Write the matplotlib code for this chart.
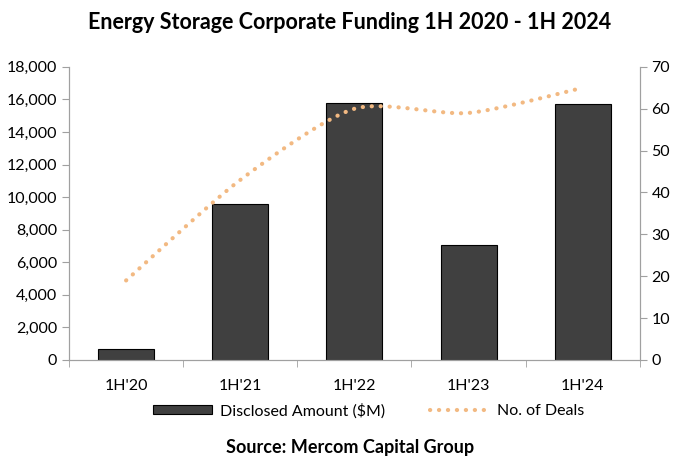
import matplotlib.pyplot as plt
import numpy as np

periods = ["1H'20", "1H'21", "1H'22", "1H'23", "1H'24"]
amount = [700, 9600, 15800, 7050, 15700]
deals = [19, 43, 60, 59, 65]

plt.rcParams['font.family'] = ['Lato', 'DejaVu Sans']


def smooth(xs, ys, n=30):
	# catmull-rom style smoothing, like excel's smoothed line
	xs = np.asarray(xs, float)
	ys = np.asarray(ys, float)
	px = np.concatenate([[xs[0]], xs, [xs[-1]]])
	py = np.concatenate([[ys[0]], ys, [ys[-1]]])
	outx, outy = [], []
	for i in range(1, len(px) - 2):
		t = np.linspace(0, 1, n)
		p0, p1, p2, p3 = [np.array([px[k], py[k]]) for k in range(i - 1, i + 3)]
		c1 = p1 + (p2 - p0) / 8
		c2 = p2 - (p3 - p1) / 8
		pts = ((1 - t) ** 3)[:, None] * p1 + (3 * (1 - t) ** 2 * t)[:, None] * c1 \
			+ (3 * (1 - t) * t ** 2)[:, None] * c2 + (t ** 3)[:, None] * p2
		outx.extend(pts[:, 0])
		outy.extend(pts[:, 1])
	return np.array(outx), np.array(outy)


fig = plt.figure(figsize=(7, 4.71), dpi=100)
ax = fig.add_axes([0.0986, 0.2357, 0.8154, 0.6223])
x = np.arange(len(periods))
bars = ax.bar(x, amount, width=0.49, color='#404040', edgecolor='black', linewidth=0.8,
	label='Disclosed Amount ($M)', zorder=2)
ax.set_xlim(-0.5, len(periods) - 0.5)
ax.set_ylim(0, 18000)
ax.set_yticks(np.arange(0, 18001, 2000))
ax.set_yticklabels([f"{v:,}" for v in range(0, 18001, 2000)])
ax.set_xticks(x)
ax.set_xticklabels(periods)
ax.set_xticks(np.arange(-0.5, len(periods), 1), minor=True)
ax.tick_params(axis='x', which='major', length=0, pad=14, labelsize=11.5)
ax.tick_params(axis='x', which='minor', length=5, color='#a0a0a0')
ax.tick_params(axis='y', length=5, color='#a0a0a0', labelsize=11.5)

ax2 = ax.twinx()
sx, sy = smooth(x, deals)
line, = ax2.plot(sx, sy, color='#f2b982', linewidth=3, linestyle=(0, (0.05, 2.1)),
	dash_capstyle='round', solid_capstyle='round', label='No. of Deals', zorder=3)
ax2.set_ylim(0, 70)
ax2.set_yticks(np.arange(0, 71, 10))
ax2.tick_params(axis='y', length=5, color='#a0a0a0', labelsize=11.5)

for a in (ax, ax2):
	a.spines['top'].set_visible(False)
	for s in ('left', 'right', 'bottom'):
		a.spines[s].set_color('#a0a0a0')

fig.text(0.5, 0.953, "Energy Storage Corporate Funding 1H 2020 - 1H 2024", ha='center', va='center',
	fontsize=15.5, fontweight='bold')
fig.legend([bars, line], ['Disclosed Amount ($M)', 'No. of Deals'], loc='center',
	bbox_to_anchor=(0.527, 0.128), ncol=2, frameon=False, fontsize=11.5, handlelength=3.7,
	handletextpad=0.5, columnspacing=2.8, handleheight=0.5)
fig.text(0.5, 0.05, "Source: Mercom Capital Group", ha='center', va='center',
	fontsize=13, fontweight='bold')

fig.savefig('out.png', dpi=100)
